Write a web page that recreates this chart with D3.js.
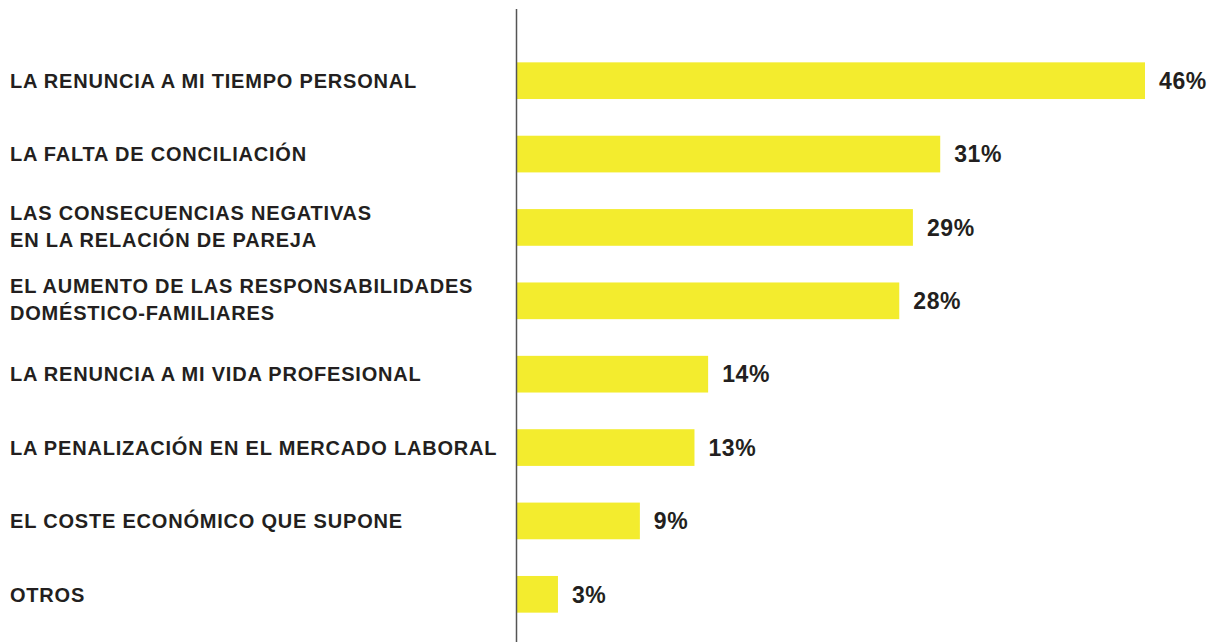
<!DOCTYPE html>
<html>
<head>
<meta charset="utf-8">
<script src="https://cdn.jsdelivr.net/npm/d3@7"></script>
<style>
body { margin: 0; background: #fff; }
svg { display: block; }
text { font-family: "Liberation Sans", Arial, Helvetica, sans-serif; font-weight: bold; fill: #231f20; }
</style>
</head>
<body>
<script>

let categories = [
	["LA RENUNCIA A MI TIEMPO PERSONAL"],
	["LA FALTA DE CONCILIACIÓN"],
	["LAS CONSECUENCIAS NEGATIVAS", "EN LA RELACIÓN DE PAREJA"],
	["EL AUMENTO DE LAS RESPONSABILIDADES", "DOMÉSTICO-FAMILIARES"],
	["LA RENUNCIA A MI VIDA PROFESIONAL"],
	["LA PENALIZACIÓN EN EL MERCADO LABORAL"],
	["EL COSTE ECONÓMICO QUE SUPONE"],
	["OTROS"]
];
let values = [46, 31, 29, 28, 14, 13, 9, 3];

let width = 1215, height = 642;
let svg = d3.select("body").append("svg")
	.attr("width", width)
	.attr("height", height);

let x0 = 517;
let x = d3.scaleLinear()
	.domain([0, 46])
	.range([x0, 1145]);

let y = d3.scaleBand()
	.domain(d3.range(values.length))
	.range([44, 631])
	.paddingInner(0.5)
	.paddingOuter(0.25);

// bars
svg.selectAll("rect.bar")
	.data(values)
	.enter()
	.append("rect")
	.attr("class", "bar")
	.attr("x", x0)
	.attr("y", (d, i) => y(i))
	.attr("width", d => x(d) - x0)
	.attr("height", y.bandwidth())
	.attr("fill", "#f3ec2e");

// axis line
svg.append("line")
	.attr("x1", 516.5)
	.attr("x2", 516.5)
	.attr("y1", 9)
	.attr("y2", height)
	.attr("stroke", "#555")
	.attr("stroke-width", 1.5);

// value labels
svg.selectAll("text.val")
	.data(values)
	.enter()
	.append("text")
	.attr("class", "val")
	.attr("x", d => x(d) + 14)
	.attr("y", (d, i) => y(i) + y.bandwidth() / 2)
	.attr("dy", "0.36em")
	.style("font-size", "23px")
	.style("letter-spacing", "0.6px")
	.text(d => d + "%");

// category labels
let lineH = 27;
let lab = svg.selectAll("text.cat")
	.data(categories)
	.enter()
	.append("text")
	.attr("class", "cat")
	.attr("x", 10)
	.attr("y", (d, i) => y(i) + y.bandwidth() / 2 - (d.length - 1) * (lineH / 2 + 1.5))
	.style("font-size", "20px")
	.style("letter-spacing", "0.8px");

lab.selectAll("tspan")
	.data(d => d)
	.enter()
	.append("tspan")
	.attr("x", 10)
	.attr("dy", (d, i) => i == 0 ? "0.36em" : lineH)
	.text(d => d);

</script>
</body>
</html>
